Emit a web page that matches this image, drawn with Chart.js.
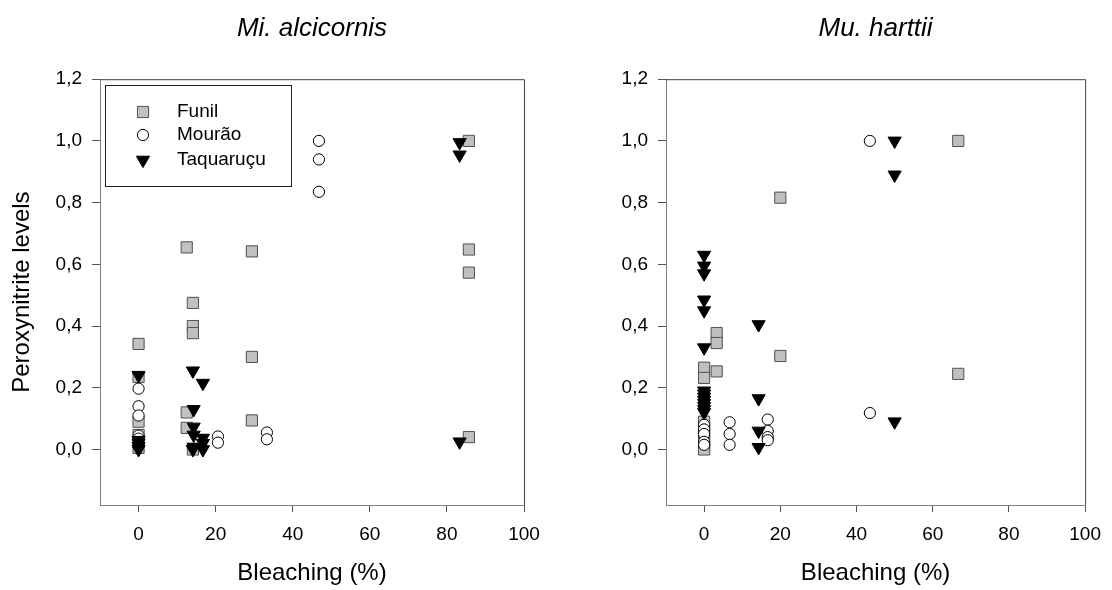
<!DOCTYPE html>
<html lang="en">

<head>
    <meta charset="UTF-8" />
    <title>Peroxynitrite levels vs bleaching</title>
    <script src="https://cdn.jsdelivr.net/npm/chart.js"></script>
    <style>
        body { margin: 0; background: #fff; }
        .row { width: 1112px; height: 590px; }
        canvas { display: block; float: left; }
    </style>
</head>

<body>
    <div class="row">
        <canvas id="alcChart" width="556" height="590"></canvas>
        <canvas id="harChart" width="556" height="590"></canvas>
    </div>

    <script>
        const xTicks = [0, 20, 40, 60, 80, 100];
        const yTicks = [0, 0.2, 0.4, 0.6, 0.8, 1.0, 1.2];
        const seriesNames = ['Funil', 'Mourão', 'Taquaruçu'];

        // Mi. alcicornis
        const alcFunilX = [0, 0, 0, 0, 0, 12.5, 12.5, 12.5, 14.1, 14.1, 14.1, 14.1, 29.4, 29.4, 29.4, 85.7, 85.7, 85.7, 85.7];
        const alcFunilY = [0.342, 0.235, 0.09, 0.047, 0.005, 0.655, 0.12, 0.07, 0.475, 0.40, 0.377, 0.0, 0.642, 0.30, 0.094, 1.0, 0.648, 0.573, 0.04];
        const alcMouraoX = [0, 0, 0, 0, 0, 0, 20.6, 20.6, 33.3, 33.3, 46.8, 46.8, 46.8];
        const alcMouraoY = [0.197, 0.14, 0.11, 0.045, 0.035, 0.015, 0.042, 0.022, 0.055, 0.033, 1.0, 0.94, 0.835];
        const alcTaquaX = [0, 0, 0, 0, 0, 14.1, 14.3, 14.3, 14.3, 14.3, 14.1, 16.7, 16.7, 16.7, 16.7, 83.3, 83.3, 83.3];
        const alcTaquaY = [0.24, 0.03, 0.02, 0.01, 0.0, 0.255, 0.13, 0.073, 0.047, 0.008, 0.0, 0.215, 0.037, 0.02, 0.0, 0.995, 0.955, 0.025];

        // Mu. harttii
        const harFunilX = [0, 0, 0, 0, 0, 0, 0, 0, 3.3, 3.3, 3.3, 20, 20, 66.7, 66.7];
        const harFunilY = [0.265, 0.232, 0.09, 0.07, 0.05, 0.03, 0.01, 0.0, 0.377, 0.345, 0.253, 0.816, 0.303, 1.0, 0.245];
        const harMouraoX = [0, 0, 0, 0, 0, 6.7, 6.7, 6.7, 16.7, 16.7, 16.7, 16.7, 43.5, 43.5];
        const harMouraoY = [0.08, 0.065, 0.05, 0.025, 0.015, 0.088, 0.05, 0.015, 0.097, 0.06, 0.04, 0.03, 1.0, 0.118];
        const harTaquaX = [0, 0, 0, 0, 0, 0, 0, 0, 0, 0, 0, 0, 0, 0, 14.3, 14.3, 14.3, 14.3, 50, 50, 50];
        const harTaquaY = [0.63, 0.595, 0.57, 0.485, 0.45, 0.33, 0.19, 0.18, 0.17, 0.16, 0.15, 0.14, 0.13, 0.12, 0.405, 0.165, 0.06, 0.007, 1.0, 0.89, 0.09];

        const fontFamily = "'Liberation Sans', Arial, sans-serif";

        const styles = [
            { pointStyle: 'rect', pointRadius: 7.9, backgroundColor: '#c0c0c0', borderColor: '#505050', rotation: 0, order: 2 },
            { pointStyle: 'circle', pointRadius: 5.6, backgroundColor: '#ffffff', borderColor: '#000000', rotation: 0, order: 1 },
            { pointStyle: 'triangle', pointRadius: 7.6, backgroundColor: '#000000', borderColor: '#000000', rotation: 180, order: 0 }
        ];

        function zip(xs, ys) {
            return xs.map((x, i) => ({ x: x, y: ys[i] }));
        }

        function makeDatasets(groups) {
            return groups.map((g, i) => ({
                label: seriesNames[i],
                data: zip(g[0], g[1]),
                pointStyle: styles[i].pointStyle,
                pointRadius: styles[i].pointRadius,
                pointHoverRadius: styles[i].pointRadius,
                pointRotation: styles[i].rotation,
                backgroundColor: styles[i].backgroundColor,
                borderColor: styles[i].borderColor,
                pointBorderWidth: 1,
                order: styles[i].order
            }));
        }

        // top and right edges of the box
        const framePlugin = {
            id: 'frame',
            beforeDatasetsDraw(chart) {
                const a = chart.chartArea;
                const ctx = chart.ctx;
                ctx.save();
                ctx.strokeStyle = '#404040';
                ctx.lineWidth = 1;
                ctx.beginPath();
                ctx.moveTo(a.left, a.top + 0.5);
                ctx.lineTo(a.right + 0.5, a.top + 0.5);
                ctx.lineTo(a.right + 0.5, a.bottom);
                ctx.stroke();
                ctx.restore();
            }
        };

        function drawMarker(ctx, style, x, y) {
            const r = style.pointRadius;
            ctx.fillStyle = style.backgroundColor;
            ctx.strokeStyle = style.borderColor;
            ctx.lineWidth = 1;
            ctx.beginPath();
            if (style.pointStyle === 'rect') {
                const s = r * Math.SQRT2 / 2;
                ctx.rect(x - s, y - s, s * 2, s * 2);
            } else if (style.pointStyle === 'circle') {
                ctx.arc(x, y, r, 0, Math.PI * 2);
            } else {
                const h = r * Math.sqrt(3) / 2;
                ctx.moveTo(x - h, y - r / 2);
                ctx.lineTo(x + h, y - r / 2);
                ctx.lineTo(x, y + r);
                ctx.closePath();
            }
            ctx.fill();
            ctx.stroke();
        }

        const boxLegend = {
            id: 'boxLegend',
            afterDraw(chart) {
                const ctx = chart.ctx;
                ctx.save();
                ctx.fillStyle = '#fff';
                ctx.fillRect(105.5, 85.5, 186, 101);
                ctx.strokeStyle = '#202020';
                ctx.lineWidth = 1;
                ctx.strokeRect(105.5, 85.5, 186, 101);
                const rows = [112, 135, 160];
                chart.data.datasets.forEach((ds, i) => {
                    drawMarker(ctx, styles[i], 143, rows[i]);
                    ctx.fillStyle = '#000';
                    ctx.font = '19px ' + fontFamily;
                    ctx.textBaseline = 'middle';
                    ctx.textAlign = 'left';
                    ctx.fillText(ds.label, 177, rows[i]);
                });
                ctx.restore();
            }
        };

        function makeChart(id, title, groups, yWidth, padRight, showYTitle, withLegend) {
            const ctx = document.getElementById(id).getContext('2d');
            return new Chart(ctx, {
                type: 'scatter',
                data: { datasets: makeDatasets(groups) },
                options: {
                    responsive: false,
                    animation: false,
                    layout: { padding: { left: 0, right: padRight, top: 0, bottom: 0 } },
                    plugins: {
                        legend: { display: false },
                        tooltip: { enabled: false },
                        title: {
                            display: true,
                            text: title,
                            fullSize: false,
                            color: '#000',
                            font: { family: fontFamily, size: 26, style: 'italic', weight: 'normal' },
                            padding: { top: 13, bottom: 35 }
                        }
                    },
                    scales: {
                        x: {
                            type: 'linear',
                            min: -10,
                            max: 100,
                            afterBuildTicks: s => { s.ticks = xTicks.map(v => ({ value: v })); },
                            afterFit: s => { s.height = 85; },
                            grid: { drawOnChartArea: false, drawTicks: true, tickLength: 7, color: '#555' },
                            border: { color: '#808080', width: 1 },
                            ticks: { color: '#000', font: { family: fontFamily, size: 19 }, padding: 11, maxRotation: 0, autoSkip: false },
                            title: {
                                display: true,
                                text: 'Bleaching (%)',
                                color: '#000',
                                font: { family: fontFamily, size: 24 },
                                padding: { top: 0, bottom: 2 }
                            }
                        },
                        y: {
                            type: 'linear',
                            min: -0.18,
                            max: 1.2,
                            afterBuildTicks: s => { s.ticks = yTicks.map(v => ({ value: v })); },
                            afterFit: s => { s.width = yWidth; },
                            grid: { drawOnChartArea: false, drawTicks: true, tickLength: 8, color: '#555' },
                            border: { color: '#808080', width: 1 },
                            ticks: {
                                color: '#000',
                                font: { family: fontFamily, size: 19 },
                                padding: 10,
                                callback: v => v.toFixed(1).replace('.', ',')
                            },
                            title: {
                                display: showYTitle,
                                text: 'Peroxynitrite levels',
                                color: '#000',
                                font: { family: fontFamily, size: 24 },
                                padding: { top: 8, bottom: 0 }
                            }
                        }
                    }
                },
                plugins: withLegend ? [framePlugin, boxLegend] : [framePlugin]
            });
        }

        makeChart('alcChart', 'Mi. alcicornis',
            [[alcFunilX, alcFunilY], [alcMouraoX, alcMouraoY], [alcTaquaX, alcTaquaY]],
            100, 32, true, true);

        makeChart('harChart', 'Mu. harttii',
            [[harFunilX, harFunilY], [harMouraoX, harMouraoY], [harTaquaX, harTaquaY]],
            110, 22, false, false);
    </script>
</body>

</html>
